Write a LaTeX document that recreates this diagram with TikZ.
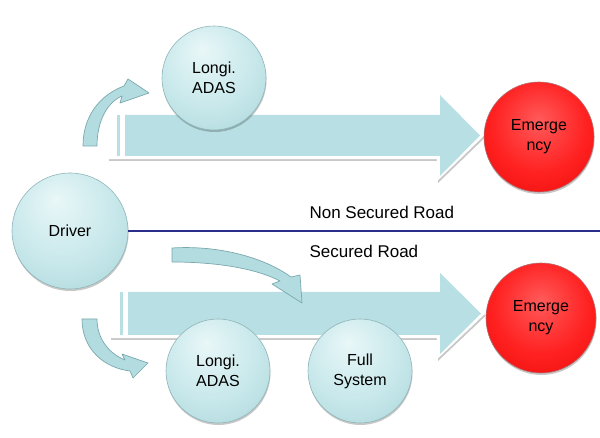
\documentclass[tikz,border=0pt]{standalone}
\usepackage{fontspec}
\setmainfont{Liberation Sans}
\usetikzlibrary{shadows}
\definecolor{bubhi}{HTML}{E9F7F8}
\definecolor{bubmid}{HTML}{C6E7EA}
\definecolor{bubedge}{HTML}{A2D0D4}
\definecolor{bubline}{HTML}{8FB5B9}
\definecolor{redhi}{HTML}{FF5A5A}
\definecolor{redmid}{HTML}{FF2020}
\definecolor{rededge}{HTML}{E00000}
\definecolor{redline}{HTML}{B07070}
\definecolor{arrfill}{HTML}{B8DFE3}
\definecolor{curvefill}{HTML}{B3DCE0}
\definecolor{curveline}{HTML}{7AA8AD}
\definecolor{roadline}{HTML}{2A2E8A}
\pgfdeclareradialshading{bluebub}{\pgfpoint{-6bp}{14bp}}{color(0bp)=(bubhi); color(24bp)=(bubmid); color(46bp)=(bubedge); color(60bp)=(bubedge)}
\pgfdeclareradialshading{redbub}{\pgfpoint{0bp}{8bp}}{color(0bp)=(redhi); color(22bp)=(redmid); color(46bp)=(rededge); color(60bp)=(rededge)}
\begin{document}
\begin{tikzpicture}[x=1pt,y=-1pt,
  txt/.style={font=\fontsize{17}{21}\selectfont, text=black},
  ctxt/.style={font=\fontsize{16}{20}\selectfont, text=black},
  bubble/.style={circle, draw=bubline, line width=0.6pt, shading=bluebub, minimum size=104pt, inner sep=0pt, align=center, ctxt,
    drop shadow={fill=black, opacity=0.22, shadow xshift=0.5pt, shadow yshift=-2pt}},
  redbubble/.style={bubble, draw=redline, shading=redbub, minimum size=110pt},
  frame/.style={fill=white, draw=white, drop shadow={fill=black, opacity=0.22, shadow xshift=1pt, shadow yshift=-2pt}},
  blockfill/.style={fill=arrfill},
  curved/.style={fill=curvefill, draw=curveline, line width=0.7pt, line join=round},
  road/.style={draw=roadline, line width=2.7pt}
]
\useasboundingbox (0,0) rectangle (600,438);

% big arrow, non secured road
\path[frame] (108,112) -- (437,112) -- (437,90) -- (484,135.5) -- (437,181) -- (437,159) -- (108,159) -- cycle;
\path[blockfill] (125,115) -- (440,115) -- (440,95) -- (480,135.5) -- (440,176) -- (440,156) -- (125,156) -- cycle;
\path[blockfill] (117,115) rectangle (120,156);

% big arrow, secured road
\path[frame] (110,289) -- (437,289) -- (437,268) -- (485,313.5) -- (437,359) -- (437,338) -- (110,338) -- cycle;
\path[blockfill] (128,292) -- (440,292) -- (440,273) -- (481,313.5) -- (440,354) -- (440,335) -- (128,335) -- cycle;
\path[blockfill] (120,292) rectangle (123,335);

% road separator
\node[bubble, ctxt] (driver) at (70,231) [minimum size=116pt] {Driver};
\coordinate (roadend) at (600,231);
\draw[road] (driver.east) -- (roadend);
\node[txt, anchor=west] (nonsec) at (306,212) {Non Secured Road};
\node[txt, anchor=west] (sec) at (306,251) {Secured Road};

% circles
\node[bubble] (longitop) at (214,78) {Longi.\\ADAS};
\node[redbubble] (emtop) at (539,137) {Emerge\\ncy};
\node[redbubble] (embot) at (541,318) {Emerge\\ncy};
\node[bubble] (longibot) at (218,371) {Longi.\\ADAS};
\node[bubble] (full) at (360,371) {Full\\System};

% curved arrows
\path[curved] (83,146) .. controls (83,116) and (100,95) .. (124,86) -- (128,79) -- (149,93) -- (120,103) -- (122,96) .. controls (108,102) and (97,120) .. (97,146) -- cycle;
\path[curved] (82,319) -- (97,319) .. controls (97,338) and (108,353) .. (125,360) -- (122,354) -- (148,363) -- (133,378) -- (130,371) .. controls (105,368) and (82,350) .. (82,319) -- cycle;
\path[curved] (172,248) .. controls (220,245) and (265,258) .. (291,277) -- (300,275) -- (302,303) -- (272,284) -- (280,281) .. controls (255,268) and (215,262) .. (172,262) -- cycle;
\end{tikzpicture}
\end{document}
